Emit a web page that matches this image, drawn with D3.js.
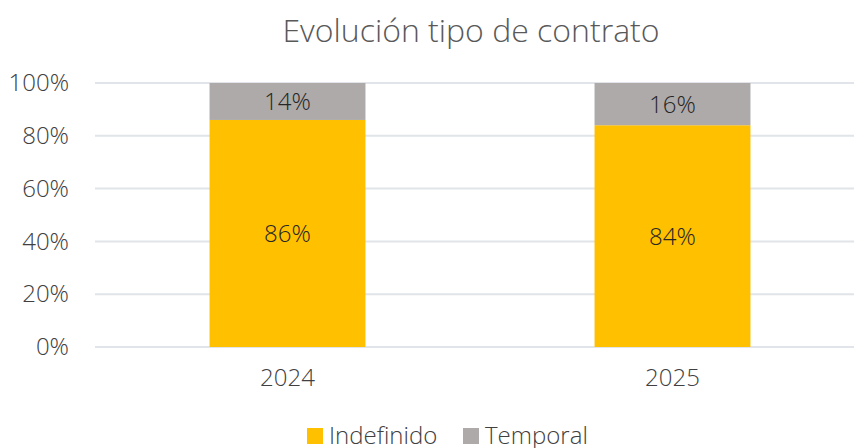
<!DOCTYPE html>
<html>
<head>
<meta charset="utf-8">
<script src="https://cdn.jsdelivr.net/npm/d3@7"></script>
<style>
  body { margin: 0; background: #fff; }
  svg text { font-family: "Open Sans", sans-serif; font-weight: 300; }
</style>
</head>
<body>
<div id="chart"></div>
<script>
// chart data
var years = ["2024", "2025"];
var indefinido = [86, 84];
var temporal = [14, 16];
var yTicks = [0, 20, 40, 60, 80, 100];
var seriesNames = ["Indefinido", "Temporal"];
var colors = ["#FFC000", "#AEAAAA"];

var width = 854, height = 448;
var margin = { top: 83, right: 0, bottom: 101, left: 95 };

var svg = d3.select("#chart").append("svg")
  .attr("width", width)
  .attr("height", height);

var x = d3.scaleBand()
  .domain(years)
  .range([margin.left, margin.left + 770])
  .paddingInner(0.595)
  .paddingOuter(0.2975);

var y = d3.scaleLinear()
  .domain([0, 100])
  .range([height - margin.bottom, margin.top]);

// title
svg.append("text")
  .attr("x", 471)
  .attr("y", 42)
  .attr("text-anchor", "middle")
  .attr("font-size", 32)
  .attr("fill", "#595959")
  .text("Evolución tipo de contrato");

// gridlines
svg.append("g")
  .selectAll("line")
  .data(yTicks)
  .enter()
  .append("line")
  .attr("x1", margin.left)
  .attr("x2", width)
  .attr("y1", function(d) { return y(d); })
  .attr("y2", function(d) { return y(d); })
  .attr("stroke", "#E1E4E8")
  .attr("stroke-width", 2);

// y axis
var yAxis = svg.append("g")
  .attr("transform", "translate(" + margin.left + ",0)")
  .call(d3.axisLeft(y).tickValues(yTicks).tickSize(0).tickPadding(26)
    .tickFormat(function(d) { return d + "%"; }));
yAxis.select(".domain").remove();
yAxis.selectAll("text").attr("font-size", 24).attr("fill", "#404040")
  .style("font-family", "Open Sans").style("font-weight", 300);

// x axis
var xAxis = svg.append("g")
  .attr("transform", "translate(0," + y(0) + ")")
  .call(d3.axisBottom(x).tickSize(0).tickPadding(22));
xAxis.select(".domain").remove();
xAxis.selectAll("text").attr("font-size", 24).attr("fill", "#404040")
  .style("font-family", "Open Sans").style("font-weight", 300);

// stacked bars
var rows = years.map(function(yr, i) {
  return { year: yr, Indefinido: indefinido[i], Temporal: temporal[i] };
});
var stack = d3.stack().keys(seriesNames)(rows);

var layers = svg.append("g")
  .selectAll("g")
  .data(stack)
  .enter()
  .append("g")
  .attr("fill", function(d, i) { return colors[i]; });

layers.selectAll("rect")
  .data(function(d) { return d; })
  .enter()
  .append("rect")
  .attr("x", function(d) { return x(d.data.year); })
  .attr("width", x.bandwidth())
  .attr("y", function(d) { return y(d[1]); })
  .attr("height", function(d) { return y(d[0]) - y(d[1]); });

layers.selectAll("text")
  .data(function(d) { return d; })
  .enter()
  .append("text")
  .attr("x", function(d) { return x(d.data.year) + x.bandwidth() / 2; })
  .attr("y", function(d) { return (y(d[0]) + y(d[1])) / 2; })
  .attr("dy", "0.35em")
  .attr("text-anchor", "middle")
  .attr("font-size", 24)
  .attr("fill", "#262626")
  .text(function(d) { return (d[1] - d[0]) + "%"; });

// legend
var legendX = [307, 463];
var legend = svg.append("g")
  .selectAll("g")
  .data(seriesNames)
  .enter()
  .append("g")
  .attr("transform", function(d, i) { return "translate(" + legendX[i] + ",428)"; });

legend.append("rect")
  .attr("width", 16)
  .attr("height", 16)
  .attr("fill", function(d, i) { return colors[i]; });

legend.append("text")
  .attr("x", 22)
  .attr("y", 8)
  .attr("dy", "0.35em")
  .attr("font-size", 24)
  .attr("fill", "#404040")
  .text(function(d) { return d; });
</script>
</body>
</html>
